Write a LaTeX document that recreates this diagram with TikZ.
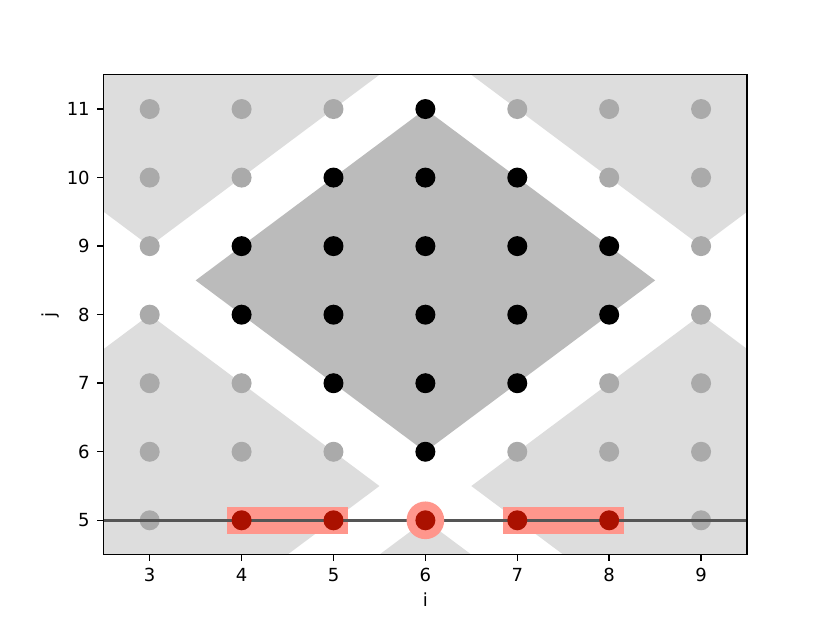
\documentclass[tikz,border=0pt]{standalone}
\usepackage{fontspec}
\setmainfont{DejaVu Sans}
\usetikzlibrary{positioning}
\definecolor{lightregion}{HTML}{DDDDDD}
\definecolor{darkregion}{HTML}{BBBBBB}
\definecolor{dotgray}{HTML}{AAAAAA}
\definecolor{dotred}{HTML}{AA1100}
\definecolor{salmon}{HTML}{FF968C}
\definecolor{linegray}{HTML}{555555}

\begin{document}
\begin{tikzpicture}[
    x=51pt, y=38.04pt,
    font=\fontsize{10}{12}\selectfont,
    dot/.style={circle, inner sep=0pt, minimum size=11.1pt, fill=#1},
    mark box/.style={fill=salmon},
    markline/.style={linegray, line width=1.5pt},
    frame/.style={line width=0.8pt},
    ticklabel/.style={inner sep=0pt}
]
\useasboundingbox (1.371,3.50) rectangle (10.403,12.591);

% shaded regions
\begin{scope}
  \clip (2.5,4.5) rectangle (9.5,11.5);
  \foreach \cx/\cy in {3/11.5, 9/11.5, 3/5.5, 9/5.5, 6/2.5}
    \fill[lightregion] ({\cx-2.5},\cy) -- (\cx,{\cy+2.5}) -- ({\cx+2.5},\cy) -- (\cx,{\cy-2.5}) -- cycle;
\end{scope}
\fill[darkregion] (3.5,8.5) -- (6,11) -- (8.5,8.5) -- (6,6) -- cycle;

% grid points
\foreach \i in {3,...,9}
  \foreach \j in {5,...,11} {
    \pgfmathtruncatemacro{\kind}{(abs(\i-6)+abs(\j-8.5)<=2.5) ? 1 : ((\j==5 && \i>=4 && \i<=8) ? 2 : 0)}
    \ifnum\kind=0 \node[dot=dotgray] (p\i-\j) at (\i,\j) {}; \fi
    \ifnum\kind=1 \node[dot=black] (p\i-\j) at (\i,\j) {}; \fi
  }

% row j = 5
\fill[mark box] (3.84,4.8) rectangle (5.16,5.2);
\fill[mark box] (6.84,4.8) rectangle (8.16,5.2);
\coordinate (lineL) at (2.5,5);
\coordinate (lineR) at (9.5,5);
\draw[markline] (lineL) -- (lineR);
\node[circle, inner sep=0pt, minimum size=20.9pt, fill=salmon] (focus) at (6,5) {};
\foreach \i in {4,...,8}
  \node[dot=dotred] (p\i-5) at (\i,5) {};

% axes
\draw[frame] (2.5,4.5) rectangle (9.5,11.5);
\foreach \i in {3,...,9} {
  \draw[frame] (\i,4.5) -- ++(0,-3.5pt);
  \node[ticklabel, anchor=base] (xt\i) at ([yshift=-15.1pt]\i,4.5) {\i};
}
\foreach \j in {5,...,11} {
  \draw[frame] (2.5,\j) -- ++(-3.5pt,0);
  \node[ticklabel, anchor=east] (yt\j) at ([xshift=-7.6pt]2.5,\j) {\j};
}
\node[ticklabel, anchor=base] (xlabel) at ([yshift=-29pt]6,4.5) {i};
\node[ticklabel, rotate=90] (ylabel) at (1.924,8) {j};
\end{tikzpicture}
\end{document}
